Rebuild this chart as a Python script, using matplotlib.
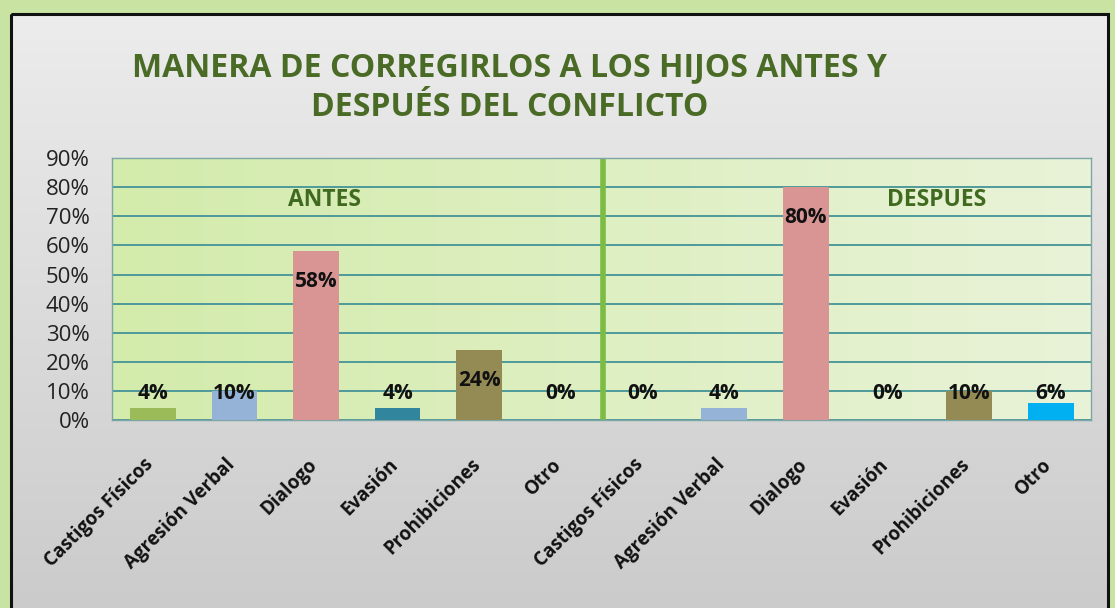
""" manera de corregir a los hijos: antes y despues """
import matplotlib
matplotlib.use('Agg')
import matplotlib.pyplot as plt
import matplotlib.transforms as mtransforms
import numpy as np
from matplotlib.patches import Rectangle

categories = ['Castigos Físicos', 'Agresión Verbal', 'Dialogo', 'Evasión',
              'Prohibiciones', 'Otro']
antes = [4, 10, 58, 4, 24, 0]
despues = [0, 4, 80, 0, 10, 6]
colors = ['#9bbb59', '#95b3d7', '#d99594', '#31859c', '#948a54', '#00b0f0']
yticks = [0, 10, 20, 30, 40, 50, 60, 70, 80, 90]

plt.rcParams['font.family'] = ['Open Sans', 'DejaVu Sans']

fig = plt.figure(figsize=(11.15, 6.08), dpi=100)
fig.patch.set_facecolor('#c9e3a3')

# background panel with gray gradient
bg = fig.add_axes([0, 0, 1, 1], zorder=0)
bg.set_xlim(0, 1115)
bg.set_ylim(608, 0)
bg.axis('off')
grad = np.linspace(0, 1, 256).reshape(-1, 1)
bg.imshow(grad, cmap=matplotlib.colors.LinearSegmentedColormap.from_list(
    'g', ['#ececec', '#cbcbcb']), extent=(11, 1108, 610, 14), aspect='auto')
bg.add_patch(Rectangle((11, 14), 1097, 600, fill=False, ec='#111111', lw=2.2))

ax = fig.add_axes([0.1004, 0.309, 0.8785, 0.431], zorder=1)
ax.patch.set_alpha(0)
hgrad = np.linspace(0, 1, 256).reshape(1, -1)
ax.imshow(hgrad, cmap=matplotlib.colors.LinearSegmentedColormap.from_list(
    'p', ['#d3ebab', '#e9f3d8']), extent=(-0.5, 11.5, 0, 90), aspect='auto',
    zorder=0)

values = antes + despues
labels = categories + categories
bar_colors = colors + colors
x = np.arange(len(values))
ax.bar(x, values, width=0.56, color=bar_colors, zorder=3)

for xi, v in zip(x, values):
    ax.text(xi, max(v - 10.5, 9.3), f'{v}%', ha='center', va='center',
            fontsize=15, fontweight='bold', color='#111111', zorder=4)

ax.set_xlim(-0.5, 11.5)
ax.set_ylim(0, 90)
ax.set_yticks(yticks)
ax.set_yticklabels([f'{t}%' for t in yticks], fontsize=16, color='#222222')
ax.yaxis.grid(True, color='#4e9a9a', lw=1.4, zorder=1)
ax.set_axisbelow(True)
ax.tick_params(axis='y', length=0, pad=16)
ax.set_xticks(x)
ax.set_xticklabels(labels, rotation=45, ha='right', rotation_mode='anchor',
                   fontsize=13.5, fontweight='bold', color='#111111')
ax.tick_params(axis='x', length=0, pad=22)
shift = mtransforms.ScaledTranslation(-9 / 100, -4 / 100, fig.dpi_scale_trans)
for lbl in ax.get_xticklabels():
    lbl.set_transform(lbl.get_transform() + shift)
for s in ax.spines.values():
    s.set_color('#7fa6a6')
    s.set_linewidth(1)

ax.axvline(5.52, color='#7cbb44', lw=4, zorder=2)

ax.text(2.1, 75.5, 'ANTES', ha='center', va='center', fontsize=16.5,
        fontweight='bold', color='#3f6a1f', zorder=4)
ax.text(9.6, 75.5, 'DESPUES', ha='center', va='center', fontsize=16.5,
        fontweight='bold', color='#3f6a1f', zorder=4)

fig.text(0.457, 0.889, 'MANERA DE CORREGIRLOS A LOS HIJOS ANTES Y',
         ha='center', va='center', fontsize=23, fontweight='bold',
         color='#4a6b25')
fig.text(0.457, 0.823, 'DESPUÉS DEL CONFLICTO', ha='center', va='center',
         fontsize=23, fontweight='bold', color='#4a6b25')

fig.savefig('out.png', dpi=100, facecolor=fig.get_facecolor())
